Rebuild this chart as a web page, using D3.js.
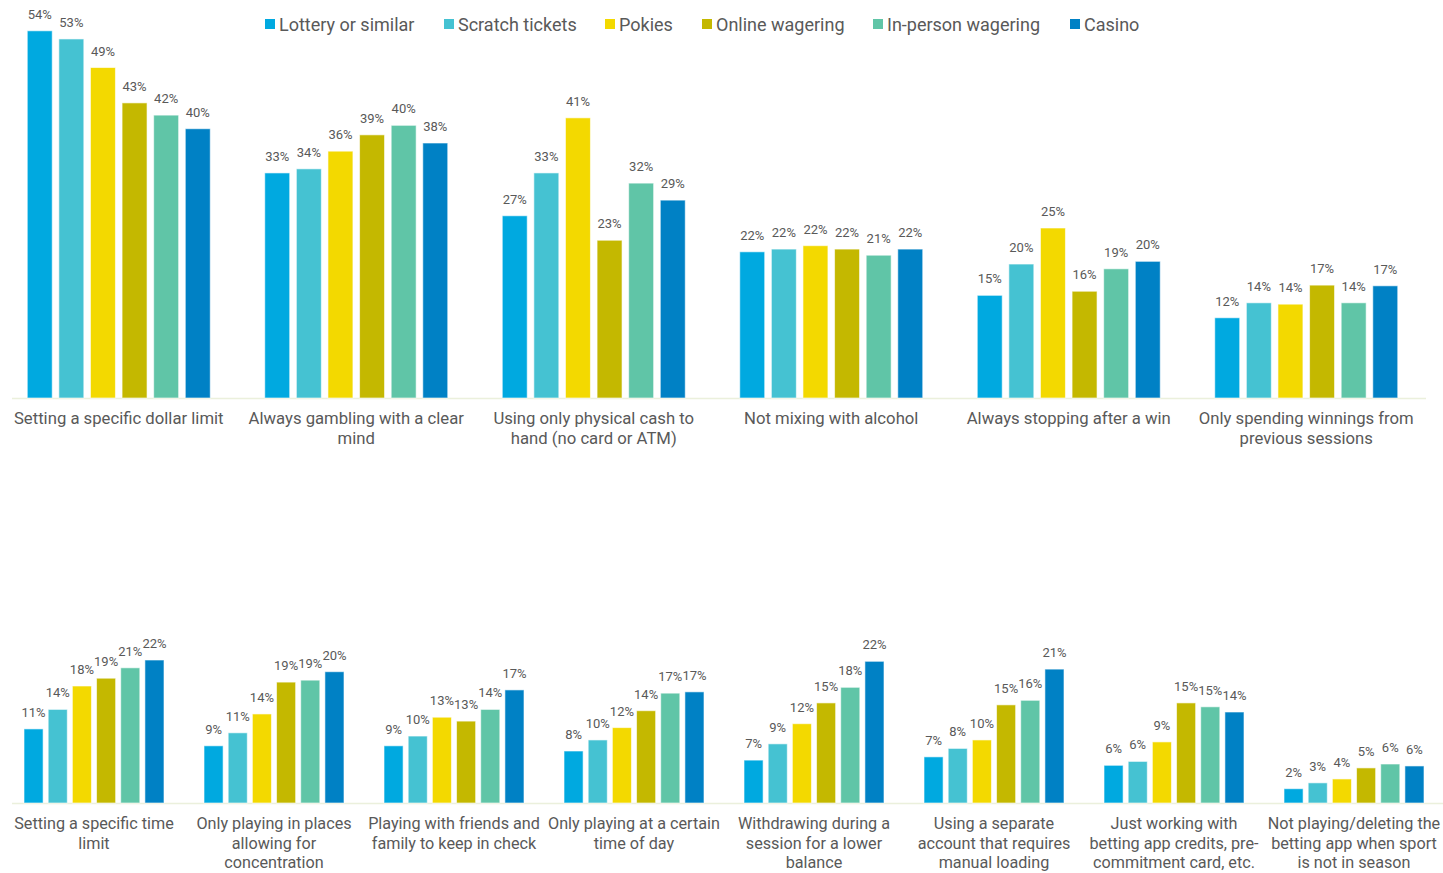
<!DOCTYPE html>
<html>
<head>
<meta charset="utf-8">
<script src="https://cdn.jsdelivr.net/npm/d3@7"></script>
<style>
  body { margin: 0; background: #fff; }
  text { font-family: Roboto, "Open Sans", sans-serif; fill: #595959; }
</style>
</head>
<body>
<svg id="chart" width="1443" height="873"></svg>
<script>
var series = ["Lottery or similar", "Scratch tickets", "Pokies", "Online wagering", "In-person wagering", "Casino"];
var colors = ["#00a9e0", "#45c2d2", "#f3d900", "#c4b800", "#60c5a7", "#0081c5"];

// top panel
var topCats = [
	["Setting a specific dollar limit"],
	["Always gambling with a clear", "mind"],
	["Using only physical cash to", "hand (no card or ATM)"],
	["Not mixing with alcohol"],
	["Always stopping after a win"],
	["Only spending winnings from", "previous sessions"]
];
var topLottery  = [54.0, 33.1, 26.8, 21.5, 15.1, 11.8];
var topScratch  = [52.8, 33.7, 33.1, 21.9, 19.7, 14.0];
var topPokies   = [48.6, 36.3, 41.2, 22.4, 25.0, 13.8];
var topOnline   = [43.4, 38.7, 23.2, 21.9, 15.7, 16.6];
var topInPerson = [41.6, 40.1, 31.6, 21.0, 19.0, 14.0];
var topCasino   = [39.6, 37.5, 29.1, 21.9, 20.1, 16.5];

// bottom panel
var botCats = [
	["Setting a specific time", "limit"],
	["Only playing in places", "allowing for", "concentration"],
	["Playing with friends and", "family to keep in check"],
	["Only playing at a certain", "time of day"],
	["Withdrawing during a", "session for a lower", "balance"],
	["Using a separate", "account that requires", "manual loading"],
	["Just working with", "betting app credits, pre-", "commitment card, etc."],
	["Not playing/deleting the", "betting app when sport", "is not in season"]
];
var botLottery  = [11.4, 8.8, 8.8, 8.0, 6.6, 7.1, 5.8, 2.2];
var botScratch  = [14.4, 10.8, 10.3, 9.7, 9.1, 8.4, 6.4, 3.1];
var botPokies   = [18.0, 13.7, 13.2, 11.6, 12.2, 9.7, 9.4, 3.7];
var botOnline   = [19.2, 18.6, 12.6, 14.2, 15.4, 15.1, 15.4, 5.4];
var botInPerson = [20.8, 18.9, 14.4, 16.9, 17.8, 15.8, 14.8, 6.0];
var botCasino   = [22.0, 20.2, 17.4, 17.1, 21.8, 20.6, 14.0, 5.7];

var svg = d3.select("#chart");

function panel(cats, vals, opt) {
	var rows = cats.map(function(c, i) {
		return { cat: i, lines: c, values: vals.map(function(v) { return v[i]; }) };
	});

	var x0 = d3.scaleBand()
		.domain(d3.range(cats.length))
		.range([opt.x0, opt.x1]);

	var x1 = d3.scaleBand()
		.domain(series)
		.range([0, opt.groupW])
		.paddingInner(0.21);

	var y = d3.scaleLinear()
		.domain([0, opt.maxV])
		.range([opt.base, opt.top]);

	svg.append("line")
		.attr("x1", opt.lineX0).attr("x2", opt.lineX1)
		.attr("y1", opt.base + 0.5).attr("y2", opt.base + 0.5)
		.style("stroke", "#ebf0dc").style("stroke-width", 1.5);

	var g = svg.selectAll(null)
		.data(rows)
	.enter().append("g")
		.attr("transform", function(d) { return "translate(" + (x0(d.cat) + (x0.bandwidth() - opt.groupW) / 2) + ",0)"; });

	var bar = g.selectAll("g")
		.data(function(d) { return d.values.map(function(v, i) { return { s: series[i], v: v, i: i }; }); })
	.enter().append("g");

	bar.append("rect")
		.attr("x", function(d) { return x1(d.s); })
		.attr("width", x1.bandwidth())
		.attr("y", function(d) { return y(d.v); })
		.attr("height", function(d) { return opt.base - y(d.v); })
		.style("fill", function(d) { return colors[d.i]; })
		.style("stroke", "rgba(255,255,255,0.6)")
		.style("stroke-width", 1);

	bar.append("text")
		.attr("x", function(d) { return x1(d.s) + x1.bandwidth() / 2; })
		.attr("y", function(d) { return y(d.v) - 12; })
		.style("text-anchor", "middle")
		.style("font-size", "13px")
		.text(function(d) { return Math.round(d.v) + "%"; });

	svg.selectAll(null)
		.data(rows)
	.enter().append("text")
		.attr("x", function(d) { return x0(d.cat) + x0.bandwidth() / 2; })
		.attr("y", opt.base + 26)
		.style("text-anchor", "middle")
		.style("font-size", opt.labelSize)
		.each(function(d) {
			var t = d3.select(this);
			d.lines.forEach(function(l, k) {
				t.append("tspan")
					.attr("x", x0(d.cat) + x0.bandwidth() / 2)
					.attr("dy", k === 0 ? 0 : 19.5)
					.text(l);
			});
		});
}

panel(topCats, [topLottery, topScratch, topPokies, topOnline, topInPerson, topCasino],
	{ x0: 0, x1: 1425, groupW: 183, base: 398, top: 30.8, maxV: 54, lineX0: 12, lineX1: 1426, labelSize: "16.7px" });

panel(botCats, [botLottery, botScratch, botPokies, botOnline, botInPerson, botCasino],
	{ x0: 4, x1: 1444, groupW: 140, base: 803, top: 660, maxV: 22, lineX0: 12, lineX1: 1443, labelSize: "16.2px" });

// legend
var legendX = [265, 444, 605, 702, 873, 1070];
var leg = svg.selectAll(".leg")
	.data(series)
.enter().append("g")
	.attr("class", "leg")
	.attr("transform", function(d, i) { return "translate(" + legendX[i] + ",24)"; });

leg.append("rect")
	.attr("x", 0).attr("y", -5)
	.attr("width", 10).attr("height", 10)
	.style("fill", function(d, i) { return colors[i]; });

leg.append("text")
	.attr("x", 14)
	.attr("dy", "0.4em")
	.style("font-size", "18px")
	.text(function(d) { return d; });
</script>
</body>
</html>
